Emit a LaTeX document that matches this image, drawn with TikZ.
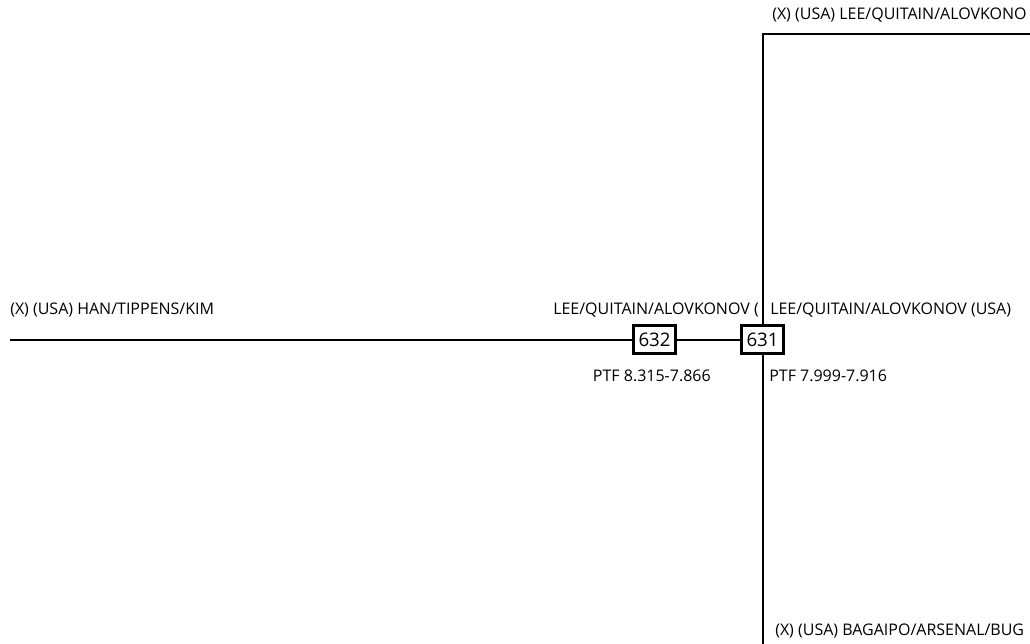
\documentclass[tikz,border=0pt]{standalone}
\usepackage{fontspec}
\setmainfont{Open Sans}
\usetikzlibrary{positioning,calc}
\tikzset{
  posbox/.style  = {draw, line width=2.2pt, rectangle, minimum width=32pt,
                    minimum height=21.5pt, inner sep=1pt, font=\fontsize{14}{16}\selectfont},
  wire/.style    = {line width=1.5pt},
  lbl/.style     = {inner sep=0pt, font=\fontsize{12}{14}\selectfont},
}
\begin{document}
\begin{tikzpicture}[x=0.75pt,y=0.75pt]
\useasboundingbox (0,0) rectangle (1030,-643);
% positions
\node[posbox] (p632) at (654.5,-339.5) {632};
\node[posbox] (p631) at (762.5,-339.5) {631};
\coordinate (westend) at (10,-339.5);
\coordinate (topbend) at (762.5,-34);
\coordinate (topend) at (1032,-34);
\coordinate (botend) at (762.5,-645);
% wires
\draw[wire] (westend) -- (p632);
\draw[wire] (p632) -- (p631);
\draw[wire] (p631) -- (topbend) -- (topend);
\draw[wire] (p631) -- (botend);
% labels
\node[lbl,anchor=west] (hanlbl) at (10,-310) {(X) (USA) HAN/TIPPENS/KIM};
\node[lbl,anchor=east] (leew) at (759,-310) {LEE/QUITAIN/ALOVKONOV (};
\node[lbl,anchor=west] (leee) at (770,-310) {LEE/QUITAIN/ALOVKONOV (USA)};
\node[lbl,anchor=east] (ptfw) at (711,-376) {PTF 8.315-7.866};
\node[lbl,anchor=west] (ptfe) at (769,-376) {PTF 7.999-7.916};
\node[lbl,anchor=west] (toplbl) at (772,-15) {(X) (USA) LEE/QUITAIN/ALOVKONO};
\node[lbl,anchor=west] (botlbl) at (775,-631) {(X) (USA) BAGAIPO/ARSENAL/BUG};
\end{tikzpicture}
\end{document}
